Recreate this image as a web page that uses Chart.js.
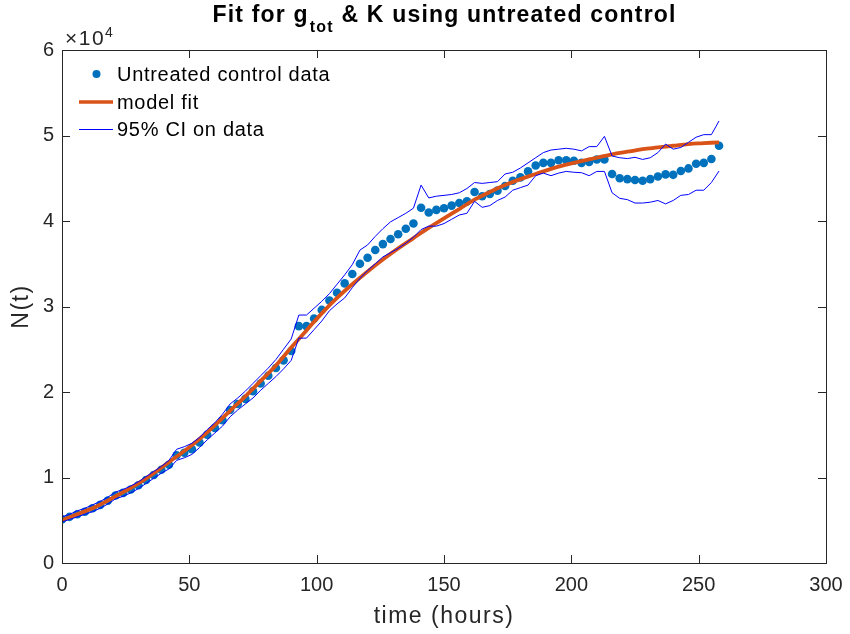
<!DOCTYPE html>
<html>
<head>
<meta charset="utf-8">
<script src="https://cdn.jsdelivr.net/npm/chart.js@4"></script>
<style>
  html, body { margin: 0; padding: 0; background: #fff; }
</style>
</head>
<body>
<canvas id="chart" width="850" height="634"></canvas>
<script>
// време в часове (на всеки 3 часа)
const hours = [0,3,6,9,12,15,18,21,24,27,30,33,36,39,42,45,48,51,54,57,60,63,66,69,72,75,78,81,84,87,
  90,93,96,99,102,105,108,111,114,117,120,123,126,129,132,135,138,141,144,147,150,153,156,159,162,165,168,171,174,177,
  180,183,186,189,192,195,198,201,204,207,210,213,216,219,222,225,228,231,234,237,240,243,246,249,252,255,258];

// N(t) в единици x10^4
const controlData = [0.51,0.54,0.57,0.60,0.64,0.68,0.73,0.79,0.82,0.86,0.91,0.97,1.03,1.09,1.15,1.26,1.29,1.33,1.41,1.50,
  1.58,1.67,1.79,1.86,1.92,2.01,2.10,2.19,2.28,2.37,2.48,2.77,2.77,2.86,2.96,3.07,3.16,3.27,3.38,3.50,
  3.57,3.66,3.73,3.79,3.845,3.91,3.97,4.155,4.10,4.13,4.15,4.18,4.21,4.23,4.34,4.29,4.315,4.355,4.41,4.47,
  4.51,4.58,4.65,4.68,4.68,4.71,4.71,4.705,4.68,4.69,4.72,4.72,4.55,4.50,4.49,4.48,4.47,4.49,4.52,4.545,
  4.54,4.585,4.615,4.67,4.68,4.725,4.88];

const ciUpper = [0.54,0.57,0.61,0.64,0.68,0.72,0.77,0.83,0.86,0.90,0.95,1.01,1.07,1.13,1.20,1.33,1.36,1.40,1.47,1.56,
  1.64,1.74,1.86,1.93,2.01,2.10,2.19,2.28,2.38,2.50,2.62,2.90,2.90,2.98,3.06,3.15,3.26,3.37,3.49,3.66,
  3.72,3.82,3.91,3.99,4.04,4.09,4.15,4.42,4.27,4.29,4.30,4.31,4.33,4.38,4.45,4.44,4.45,4.46,4.55,4.57,
  4.62,4.68,4.74,4.80,4.83,4.84,4.85,4.84,4.82,4.87,4.87,4.99,4.76,4.74,4.73,4.745,4.72,4.74,4.80,4.90,
  4.84,4.86,4.92,4.98,5.01,5.01,5.17];

const ciLower = [0.48,0.51,0.54,0.57,0.60,0.64,0.69,0.75,0.78,0.82,0.87,0.93,0.99,1.05,1.10,1.20,1.23,1.27,1.35,1.44,
  1.52,1.60,1.71,1.79,1.86,1.93,2.02,2.10,2.18,2.27,2.37,2.63,2.63,2.73,2.83,2.95,3.03,3.10,3.22,3.33,
  3.42,3.50,3.58,3.63,3.68,3.74,3.81,3.90,3.94,3.94,3.97,4.02,4.07,4.09,4.23,4.16,4.18,4.24,4.28,4.36,
  4.39,4.42,4.53,4.56,4.53,4.56,4.58,4.57,4.565,4.53,4.58,4.58,4.33,4.265,4.25,4.21,4.21,4.22,4.24,4.20,
  4.24,4.30,4.31,4.36,4.36,4.45,4.585];

// моделна крива (на всеки 6 часа)
const fitHours = [0,6,12,18,24,30,36,42,48,54,60,66,72,78,84,90,96,102,108,114,120,126,132,138,144,150,
  156,162,168,174,180,186,192,198,204,210,216,222,228,234,240,246,252,258];
const fitValues = [0.50,0.57,0.64,0.73,0.83,0.93,1.05,1.18,1.31,1.45,1.61,1.78,1.95,2.13,2.31,2.52,2.72,2.92,3.10,3.26,
  3.41,3.55,3.68,3.80,3.92,4.03,4.14,4.25,4.34,4.42,4.49,4.55,4.61,4.66,4.70,4.74,4.78,4.81,4.84,4.86,
  4.88,4.90,4.91,4.92];

const xTicks = [0, 50, 100, 150, 200, 250, 300];
const yTicks = [0, 1, 2, 3, 4, 5, 6];

const FONT = '"Liberation Sans", Arial, Helvetica, sans-serif';
const AXIS_COLOR = '#262626';
const DOT_COLOR = '#0072BD';
const FIT_COLOR = '#D95319';
const CI_COLOR = '#0000FF';

const toPoints = (xs, ys) => xs.map((x, i) => ({ x: x, y: ys[i] }));

// рамка, чертички навътре, заглавие, легенда - в стил MATLAB
const matlabFrame = {
  id: 'matlabFrame',
  afterDraw(chart) {
    const ctx = chart.ctx;
    const a = chart.chartArea;
    const xs = chart.scales.x, ys = chart.scales.y;
    const tl = 8;
    ctx.save();
    ctx.strokeStyle = AXIS_COLOR;
    ctx.lineWidth = 1;
    ctx.beginPath();
    xTicks.forEach(t => {
      const px = Math.round(xs.getPixelForValue(t)) + 0.5;
      ctx.moveTo(px, a.bottom); ctx.lineTo(px, a.bottom - tl);
      ctx.moveTo(px, a.top); ctx.lineTo(px, a.top + tl);
    });
    yTicks.forEach(t => {
      const py = Math.round(ys.getPixelForValue(t)) + 0.5;
      ctx.moveTo(a.left, py); ctx.lineTo(a.left + tl, py);
      ctx.moveTo(a.right, py); ctx.lineTo(a.right - tl, py);
    });
    ctx.stroke();
    ctx.strokeRect(Math.round(a.left) + 0.5, Math.round(a.top) + 0.5,
      Math.round(a.right - a.left), Math.round(a.bottom - a.top));

    // заглавие с индекс
    ctx.fillStyle = '#000';
    ctx.textBaseline = 'alphabetic';
    ctx.textAlign = 'left';
    ctx.letterSpacing = '1.2px';
    const big = 'bold 23px ' + FONT, small = 'bold 16px ' + FONT;
    const p1 = 'Fit for g', p2 = 'tot', p3 = ' & K using untreated control';
    ctx.font = big; const w1 = ctx.measureText(p1).width, w3 = ctx.measureText(p3).width;
    ctx.font = small; const w2 = ctx.measureText(p2).width;
    const x0 = (a.left + a.right) / 2 - (w1 + w2 + w3) / 2;
    const by = 22;
    ctx.font = big; ctx.fillText(p1, x0, by);
    ctx.font = small; ctx.fillText(p2, x0 + w1 + 1, by + 10);
    ctx.font = big; ctx.fillText(p3, x0 + w1 + w2 + 1, by);

    // множител x10^4
    ctx.fillStyle = AXIS_COLOR;
    ctx.letterSpacing = '1.5px';
    ctx.font = '21px ' + FONT;
    ctx.fillText('\u00d710', a.left + 3, 45);
    const wm = ctx.measureText('\u00d710').width;
    ctx.letterSpacing = '0px';
    ctx.font = '14px ' + FONT;
    ctx.fillText('4', a.left + 3 + wm, 37);

    // надписи на осите
    ctx.letterSpacing = '1.5px';
    ctx.font = '23px ' + FONT;
    ctx.textAlign = 'center';
    ctx.textBaseline = 'middle';
    ctx.fillText('time (hours)', (a.left + a.right) / 2, 617);
    ctx.save();
    ctx.translate(22, (a.top + a.bottom) / 2);
    ctx.rotate(-Math.PI / 2);
    ctx.fillText('N(t)', 0, 0);
    ctx.restore();

    // легенда
    ctx.textAlign = 'left';
    ctx.letterSpacing = '0.7px';
    ctx.font = '20px ' + FONT;
    const lx = 117;
    ctx.fillStyle = DOT_COLOR;
    ctx.beginPath(); ctx.arc(96.5, 74, 4, 0, Math.PI * 2); ctx.fill();
    ctx.fillStyle = '#000';
    ctx.fillText('Untreated control data', lx, 75);
    ctx.strokeStyle = FIT_COLOR; ctx.lineWidth = 3.5;
    ctx.beginPath(); ctx.moveTo(79, 102); ctx.lineTo(113, 102); ctx.stroke();
    ctx.fillText('model fit', lx, 103);
    ctx.strokeStyle = CI_COLOR; ctx.lineWidth = 1;
    ctx.beginPath(); ctx.moveTo(79, 129.5); ctx.lineTo(113, 129.5); ctx.stroke();
    ctx.fillText('95% CI on data', lx, 130);
    ctx.letterSpacing = '0px';
    ctx.restore();
  }
};

new Chart(document.getElementById('chart'), {
  type: 'scatter',
  data: {
    datasets: [
      {
        label: 'Untreated control data',
        data: toPoints(hours, controlData),
        showLine: false,
        pointRadius: 4.3,
        pointBackgroundColor: DOT_COLOR,
        pointBorderWidth: 0,
        order: 3
      },
      {
        label: 'model fit',
        data: toPoints(fitHours, fitValues),
        showLine: true,
        borderColor: FIT_COLOR,
        borderWidth: 3.8,
        tension: 0.4,
        pointRadius: 0,
        order: 2
      },
      {
        label: '95% CI on data',
        data: toPoints(hours, ciUpper),
        showLine: true,
        borderColor: CI_COLOR,
        borderWidth: 1,
        pointRadius: 0,
        order: 1
      },
      {
        label: '95% CI lower',
        data: toPoints(hours, ciLower),
        showLine: true,
        borderColor: CI_COLOR,
        borderWidth: 1,
        pointRadius: 0,
        order: 1
      }
    ]
  },
  options: {
    responsive: false,
    animation: false,
    layout: { padding: { left: 0, right: 24, top: 50, bottom: 0 } },
    plugins: {
      legend: { display: false },
      title: { display: false },
      tooltip: { enabled: false }
    },
    scales: {
      x: {
        type: 'linear',
        min: 0, max: 300,
        grid: { display: false },
        border: { display: false },
        afterFit: s => { s.height = 71; },
        afterBuildTicks: s => { s.ticks = xTicks.map(v => ({ value: v })); },
        ticks: { color: AXIS_COLOR, font: { family: FONT, size: 20 }, padding: 2, maxRotation: 0 }
      },
      y: {
        type: 'linear',
        min: 0, max: 6,
        grid: { display: false },
        border: { display: false },
        afterFit: s => { s.width = 62; },
        afterBuildTicks: s => { s.ticks = yTicks.map(v => ({ value: v })); },
        ticks: { color: AXIS_COLOR, font: { family: FONT, size: 20 }, padding: 0 }
      }
    }
  },
  plugins: [matlabFrame]
});
</script>
</body>
</html>
